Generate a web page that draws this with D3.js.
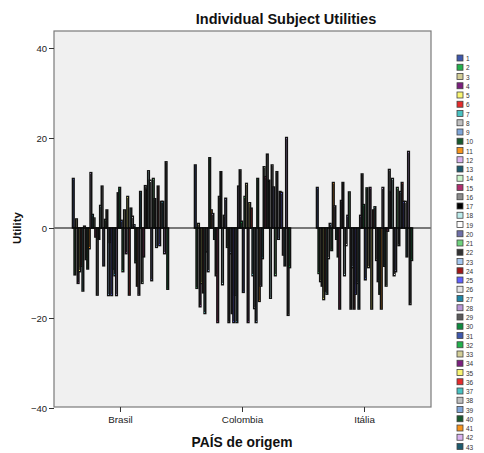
<!DOCTYPE html>
<html><head><meta charset="utf-8">
<script src="https://cdn.jsdelivr.net/npm/d3@7"></script>
<style>
body{margin:0;background:#fff;}
text{font-family:"Liberation Sans",Arial,sans-serif;}
</style></head>
<body>
<svg id="chart" width="484" height="453"></svg>
<script>
const countries = ["Brasil","Colombia","Itália"];
const brasil = [11.0,-10.4,2.0,-12.3,-9.7,-8.5,-14,0.4,-7,-9.1,-4.6,12.3,3.0,2.2,-2,-14.9,-2.5,5.0,9.3,-8.4,1.9,4.0,-15,-3.2,-15,-9.1,-10.6,-15,7.8,9.0,1.7,-9.7,4.0,-5.7,7.0,-14.9,4.4,2.6,0.7,-7.7,-12.9,-14.9,8.1,-12.3,-6.4,9.4,8.6,12.7,10.6,-11.7,11.0,6.5,-4.3,9.3,-3.9,5.9,5.9,-5.7,14.7,-13.6];
const colombia = [14.0,-13.4,1.0,-17.5,-12.3,-14.4,-19.0,-5.3,-9.7,15.6,4.0,3.2,-2.5,-10.6,-21,7.0,12.5,-12.6,2.8,6.6,-4.3,-21,-5.7,-19,-21,-14.9,-21,9.3,12.9,1.5,-14.3,7.0,9.9,-21,5.6,4.4,-10.6,-17.9,-21,11.0,-16.3,-12.9,-6.8,13.6,11.4,16.4,10.6,-15.6,14.0,9.1,-10.6,12.5,-2.5,8.1,7.9,-6.0,-8.4,20.1,-19.4,-8.8];
const italia = [9.0,-10.1,-11.9,-12.9,-15.9,-14,-14.7,-6.8,1.0,-5,10.1,4.9,-2.5,-6.4,-18,6.1,10.1,-10.6,-3.9,2.8,8.0,-18,-8.8,-18,-14.7,-12.3,-18,2.8,12.0,5.2,-11.5,8.9,-8.8,9.0,-18,4.0,4.7,-7.2,-11.9,-14.7,-18,9.0,-8.5,-12.9,-0.7,13.0,8.1,11.0,-10.6,-9.7,9.0,-3.9,8.1,10.1,5.9,5.9,-6.4,17.0,-17.0,-7.2];
const seriesValues = [brasil, colombia, italia];
const subjects = d3.range(1, brasil.length + 1).map(String);
const yTicks = [-40,-20,0,20,40];
const palette = ["#3E58AC","#22B14C","#D3CE97","#7B1F7E","#F8F573","#E52B2B","#48C2C2","#C0C0C0","#7FA6D9","#185A2E","#F7941D","#D9B2F0","#1D5B6E","#CBF5CB","#B02E6E","#8C8C8C","#000000","#BCEBEB","#FFFFFF","#6E6FA8","#6FD27E","#333333","#A5C8F0","#A01818","#6060FF","#E6E6E6","#1F86A6","#B896D6","#5A5A5A","#0E8A3E"];

const W = 484, H = 453;
const svg = d3.select("#chart");
const L = 54, R = 431, T = 31, B = 407;

const y = d3.scaleLinear().domain([-40, 40]).range([408, 48]);
const x0 = d3.scaleBand().domain(countries).range([L, R]).paddingInner(0.213).paddingOuter(0.1515);
const x1 = d3.scaleBand().domain(subjects).range([0, x0.bandwidth()]);
const color = d3.scaleOrdinal().domain(subjects).range(palette);

svg.append("rect").attr("x", L).attr("y", T).attr("width", R - L).attr("height", B - T)
  .attr("fill", "#f0f0f0");

const g = svg.append("g");
countries.forEach((c, ci) => {
  const vals = seriesValues[ci];
  g.append("g").attr("transform", `translate(${x0(c)},0)`)
    .selectAll("rect").data(vals).join("rect")
    .attr("x", (d, i) => x1(subjects[i]))
    .attr("width", x1.bandwidth())
    .attr("y", d => y(Math.max(0, d)))
    .attr("height", d => Math.abs(y(d) - y(0)))
    .attr("fill", (d, i) => color(subjects[i]))
    .attr("stroke", "#111").attr("stroke-width", 1.55);
});

svg.append("line").attr("x1", L).attr("x2", R).attr("y1", y(0)).attr("y2", y(0))
  .attr("stroke", "#000").attr("stroke-width", 1);

svg.append("rect").attr("x", L).attr("y", T).attr("width", R - L).attr("height", B - T)
  .attr("fill", "none").attr("stroke", "#7a7a7a").attr("stroke-width", 1.2);

const yAxis = svg.append("g").attr("transform", `translate(${L},0)`)
  .call(d3.axisLeft(y).tickValues(yTicks).tickSize(5).tickPadding(2).tickFormat(d3.format("d")));
yAxis.select(".domain").remove();
yAxis.selectAll("text").attr("font-size", 9.5).attr("fill", "#222").style("font-family", "Liberation Sans, Arial, sans-serif");
yAxis.selectAll("line").attr("stroke", "#333");

const xAxis = svg.append("g").attr("transform", `translate(0,${B})`)
  .call(d3.axisBottom(x0).tickSize(5).tickPadding(4));
xAxis.select(".domain").remove();
xAxis.selectAll("text").attr("font-size", 9.8).attr("fill", "#222").style("font-family", "Liberation Sans, Arial, sans-serif");
xAxis.selectAll("line").attr("stroke", "#333");

svg.append("text").attr("x", 286).attr("y", 24).attr("text-anchor", "middle")
  .attr("font-size", 14.5).attr("font-weight", "bold").attr("fill", "#111").text("Individual Subject Utilities");
svg.append("text").attr("x", 242).attr("y", 447).attr("text-anchor", "middle")
  .attr("font-size", 13.8).attr("font-weight", "bold").attr("fill", "#111").text("PAÍS de origem");
svg.append("text").attr("transform", `translate(21,${y(0)}) rotate(-90)`).attr("text-anchor", "middle")
  .attr("font-size", 11.5).attr("font-weight", "bold").attr("fill", "#111").text("Utility");

// legend (only the entries that fit in the window)
const legStep = 9.25, legTop = 55;
const shown = subjects.filter((d, i) => legTop + i * legStep + 6.5 <= H);
const leg = svg.append("g").attr("transform", `translate(457,${legTop})`);
const items = leg.selectAll("g").data(shown).join("g")
  .attr("transform", (d, i) => `translate(0,${i * legStep})`);
items.append("rect").attr("width", 6).attr("height", 6)
  .attr("fill", d => color(d)).attr("stroke", "#444").attr("stroke-width", 0.8);
items.append("text").attr("x", 9).attr("y", 6).attr("font-size", 6.5).attr("fill", "#333").text(d => d);
</script>
</body></html>
